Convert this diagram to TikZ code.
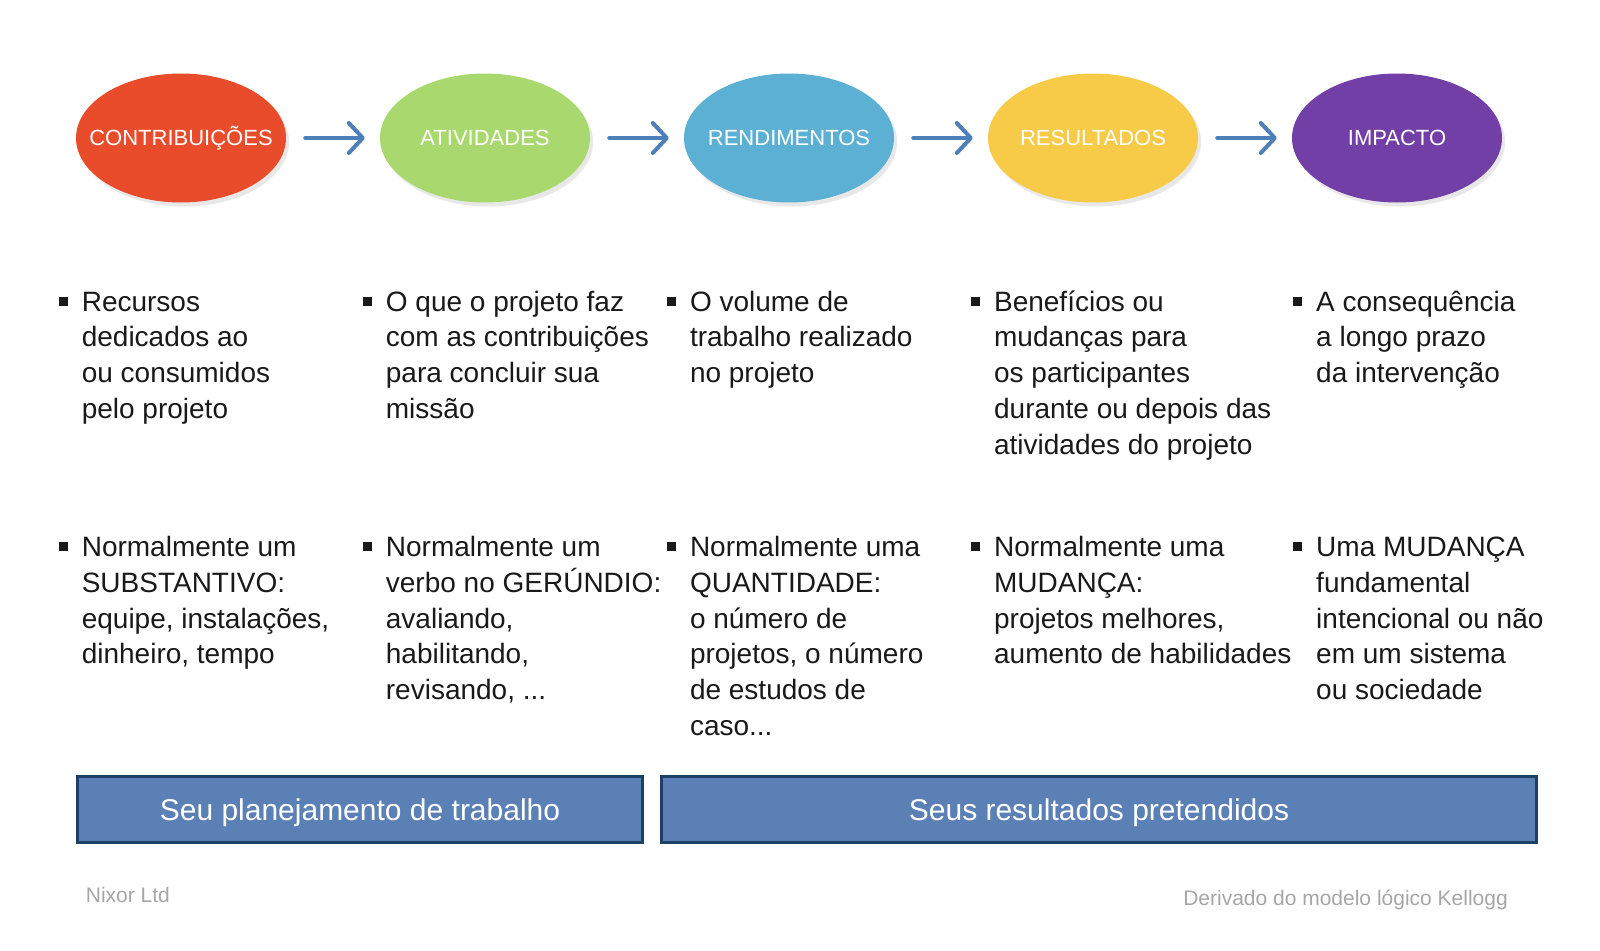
\documentclass[tikz,border=0pt]{standalone}
\usepackage{fontspec}
\setmainfont{Liberation Sans}
\usepackage{tikz}
\usetikzlibrary{arrows.meta,shapes.geometric,shadows,positioning,calc}

\definecolor{contribcol}{HTML}{E84C2A}
\definecolor{activcol}{HTML}{A9D86E}
\definecolor{outputcol}{HTML}{5BB0D3}
\definecolor{resultcol}{HTML}{F7CA48}
\definecolor{impactcol}{HTML}{713FA5}
\definecolor{flowblue}{HTML}{4F7FB8}
\definecolor{bandfill}{HTML}{5B80B6}
\definecolor{banddark}{HTML}{1C4066}
\definecolor{notegray}{HTML}{A6A6A6}

\tikzset{
  stage/.style={ellipse, fill=#1, minimum width=210pt, minimum height=129pt,
    inner xsep=-40pt, inner ysep=0pt,
    text=white, font=\fontsize{22}{26}\selectfont, text height=15.8pt, text depth=0pt,
    drop shadow={opacity=0.18, shadow xshift=3pt, shadow yshift=-4pt}},
  flow/.style={draw=flowblue, line width=4pt, line cap=round,
    -{Straight Barb[length=14pt,width=30pt,round]}, shorten <=19pt, shorten >=15pt},
  % base = baseline of the last line
  item/.style={anchor=base west, align=left, inner sep=0pt,
    font=\fontsize{28}{35.8}\selectfont, text=black!90},
  sq/.style={fill=black!90, minimum size=9pt, inner sep=0pt},
  band/.style={draw=banddark, fill=bandfill, line width=3pt, inner sep=0pt,
    text=white, font=\fontsize{30}{36}\selectfont, text depth=0pt},
  note/.style={inner sep=0pt, text=notegray, font=\fontsize{21}{25}\selectfont}
}

\begin{document}
\begin{tikzpicture}[x=1pt,y=-1pt]
\useasboundingbox (0,0) rectangle (1600,950);

% the five stages
\node[stage=contribcol] (contrib) at (181,138) {CONTRIBUIÇÕES};
\node[stage=activcol] (activ) at (485,138) {ATIVIDADES};
\node[stage=outputcol] (output) at (789,138) {RENDIMENTOS};
\node[stage=resultcol] (result) at (1093,138) {RESULTADOS};
\node[stage=impactcol] (impact) at (1397,138) {IMPACTO};

\draw[flow] (contrib) -- (activ);
\draw[flow] (activ) -- (output);
\draw[flow] (output) -- (result);
\draw[flow] (result) -- (impact);

% what each stage is
\node[item] (contrib-what) at (81.6,418.4) {Recursos\\dedicados ao\\ou consumidos\\pelo projeto};
\node[item] (activ-what) at (385.7,418.4) {O que o projeto faz\\com as contribuições\\para concluir sua\\missão};
\node[item] (output-what) at (689.8,382.6) {O volume de\\trabalho realizado\\no projeto};
\node[item] (result-what) at (993.9,454.2) {Benefícios ou\\mudanças para\\os participantes\\durante ou depois das\\atividades do projeto};
\node[item] (impact-what) at (1316,382.6) {A consequência\\a longo prazo\\da intervenção};

% how it is usually phrased
\node[item] (contrib-kind) at (81.6,663.9) {Normalmente um\\SUBSTANTIVO:\\equipe, instalações,\\dinheiro, tempo};
\node[item] (activ-kind) at (385.7,699.7) {Normalmente um\\verbo no GERÚNDIO:\\avaliando,\\habilitando,\\revisando, ...};
\node[item] (output-kind) at (689.8,735.5) {Normalmente uma\\QUANTIDADE:\\o número de\\projetos, o número\\de estudos de\\caso...};
\node[item] (result-kind) at (993.9,663.9) {Normalmente uma\\MUDANÇA:\\projetos melhores,\\aumento de habilidades};
\node[item] (impact-kind) at (1316,699.7) {Uma MUDANÇA\\fundamental\\intencional ou não\\em um sistema\\ou sociedade};

\foreach \x [count=\i] in {63,367,671,975,1297}
  \foreach \y [count=\j] in {301,546.5}
    \node[sq] (dot-\i-\j) at (\x,\y) {};

% bottom bands
\node[band, minimum width=565pt, minimum height=66pt] (plan) at (360,809.5) {Seu planejamento de trabalho};
\node[band, minimum width=875pt, minimum height=66pt] (aims) at (1099,809.5) {Seus resultados pretendidos};

\node[note, anchor=base west] (owner) at (85.7,902.5) {Nixor Ltd};
\node[note, anchor=base east] (source) at (1508,905) {Derivado do modelo lógico Kellogg};
\end{tikzpicture}
\end{document}
